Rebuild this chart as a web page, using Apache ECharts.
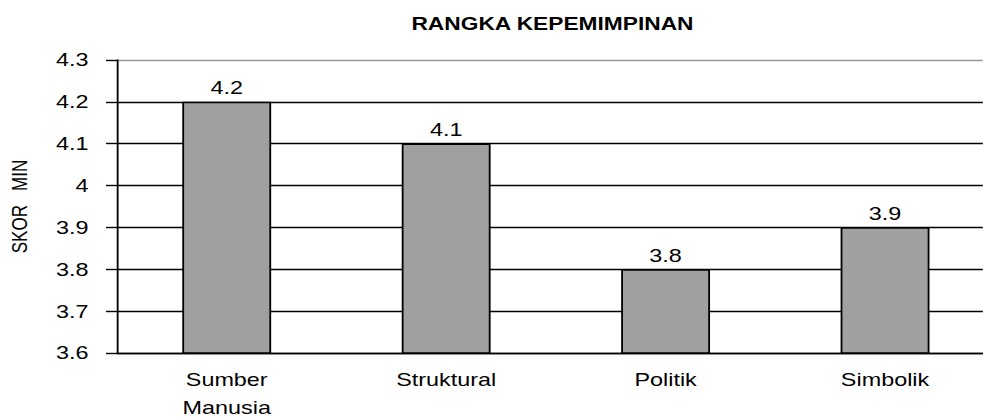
<!DOCTYPE html>
<html>
<head>
<meta charset="utf-8">
<script src="https://cdn.jsdelivr.net/npm/echarts@6/dist/echarts.min.js"></script>
<style>
  html, body { margin: 0; padding: 0; background: #fff; overflow: hidden; }
  /* the reference is stretched sideways, so the chart is drawn narrower and scaled in x */
  #chart { width: 756.2px; height: 418px; transform: scaleX(1.3); transform-origin: 0 0; }
</style>
</head>
<body>
<div id="chart"></div>
<script>
// data
const categories = ['Sumber Manusia', 'Struktural', 'Politik', 'Simbolik'];
const scores = [4.2, 4.1, 3.8, 3.9];
const yMin = 3.6, yMax = 4.3, yStep = 0.1;

const font = 'Liberation Sans, Arial, sans-serif';

let chart = echarts.init(document.getElementById('chart'), null, { renderer: 'svg' });

// grid lines black, the top one grey
let splitColors = [];
for (let i = 0; i < 8; i++) splitColors.push(i === 7 ? '#999' : '#000');

chart.setOption({
  animation: false,
  title: {
    text: 'RANGKA KEPEMIMPINAN',
    left: 420,
    top: 10,
    textAlign: 'center',
    textStyle: { fontFamily: font, fontSize: 17.5, fontWeight: 'bold', color: '#000' }
  },
  grid: { left: 90, right: -9.2, top: 60, bottom: 65, outerBoundsMode: 'none', containLabel: false },
  xAxis: {
    type: 'category',
    data: categories,
    axisLine: { lineStyle: { color: '#000', width: 1.4 } },
    axisTick: { length: 11, lineStyle: { color: '#000', width: 1.4 } },
    axisLabel: {
      color: '#000', fontFamily: font, fontSize: 18, margin: 13, lineHeight: 27.5,
      formatter: v => v.replace(' ', '\n')
    }
  },
  yAxis: {
    type: 'value',
    min: yMin, max: yMax, interval: yStep,
    name: 'SKOR   MIN',
    nameLocation: 'middle',
    nameGap: 67,
    nameRotate: 90,
    nameTextStyle: { color: '#000', fontFamily: font, fontSize: 17 },
    axisLine: { show: true, lineStyle: { color: '#000', width: 1.4 } },
    axisTick: { show: true, length: 8.5, lineStyle: { color: '#000', width: 1.4 } },
    axisLabel: {
      color: '#000', fontFamily: font, fontSize: 18, margin: 22,
      formatter: v => String(Math.round(v * 10) / 10)
    },
    splitLine: { show: true, lineStyle: { color: splitColors, width: 1.4 } }
  },
  series: [{
    type: 'bar',
    data: scores,
    barWidth: '40.5%',
    itemStyle: { color: '#a0a0a0', borderColor: '#000', borderWidth: 1.4 },
    label: {
      show: true, position: 'top', distance: 5,
      color: '#000', fontFamily: font, fontSize: 18
    }
  }]
});
</script>
</body>
</html>
